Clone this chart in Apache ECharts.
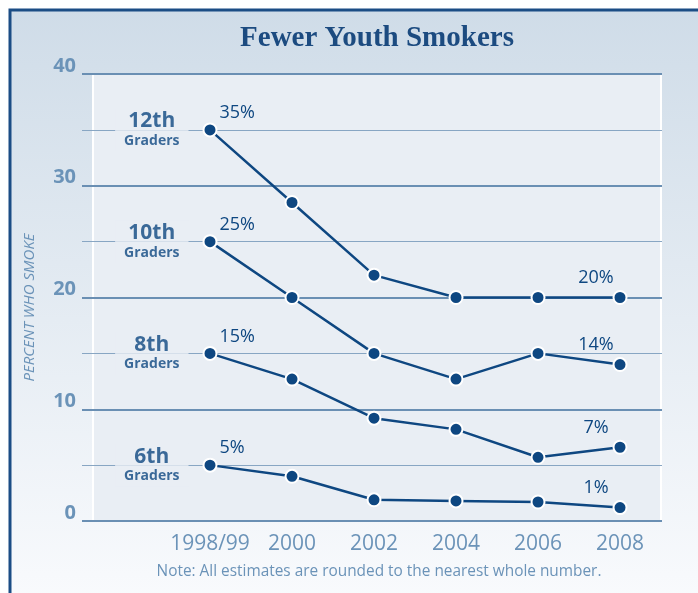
<!DOCTYPE html>
<html>
<head>
<meta charset="utf-8">
<script src="https://cdn.jsdelivr.net/npm/echarts@6/dist/echarts.min.js"></script>
<style>html,body{margin:0;padding:0;background:#fff}#chart{width:698px;height:593px}</style>
</head>
<body>
<div id="chart"></div>
<script>
// survey years (x axis)
const years = ['1998/99', '2000', '2002', '2004', '2006', '2008'];
// percent who smoke
const grade12 = [35, 28.5, 22, 20, 20, 20];
const grade10 = [25, 20, 15, 12.7, 15, 14];
const grade8 = [15, 12.7, 9.2, 8.2, 5.7, 6.6];
const grade6 = [5, 4, 1.9, 1.8, 1.7, 1.2];
const gradeNames = ['12th', '10th', '8th', '6th'];

const NAVY = '#0e4781';
const SOFT = '#6b93b8';
const PANEL = '#e9eef4';
const allGrades = [grade12, grade10, grade8, grade6];

function lineSeries(vals, name) {
  return {
    name: name,
    type: 'line',
    data: vals.map((v, i) => {
      const item = { value: [i, v] };
      if (i === 0) item.label = { show: true, position: 'right', distance: 2, offset: [0, -17] };
      else if (i === vals.length - 1) item.label = { show: true, position: 'top', distance: 3, offset: [-24, 0] };
      return item;
    }),
    symbol: 'circle',
    symbolSize: 13,
    showAllSymbol: true,
    lineStyle: { color: NAVY, width: 2.5 },
    itemStyle: { color: NAVY, borderColor: '#fff', borderWidth: 2 },
    label: {
      show: false, color: NAVY, fontSize: 18, fontFamily: 'Open Sans',
      formatter: p => Math.round(p.value[1]) + '%'
    },
    emphasis: { disabled: true },
    z: 3
  };
}

const chart = echarts.init(document.getElementById('chart'));

const option = {
  animation: false,
  backgroundColor: '#fff',
  grid: { left: 82, right: 36, top: 74, bottom: 72 },
  xAxis: {
    type: 'value', min: -1.561, max: 5.512,
    axisLine: { show: false }, axisTick: { show: false }, splitLine: { show: false },
    axisLabel: {
      customValues: years.map((y, i) => i),
      formatter: v => years[v],
      color: SOFT, fontSize: 21, fontFamily: 'Open Sans', margin: 13
    }
  },
  yAxis: [
    {
      type: 'value', min: 0, max: 40, interval: 10,
      name: 'PERCENT WHO SMOKE', nameLocation: 'middle', nameGap: 45,
      nameTextStyle: { color: SOFT, fontSize: 15, fontStyle: 'italic', fontFamily: 'Open Sans', padding: [0, 20, 0, 0] },
      axisLine: { show: false }, axisTick: { show: false },
      axisLabel: {
        color: SOFT, fontSize: 20, fontWeight: 'bold', fontFamily: 'Open Sans',
        margin: 6, verticalAlign: 'bottom', lineHeight: 16
      },
      splitLine: { lineStyle: { color: '#6a8fb3', width: 2 } }
    },
    {
      type: 'value', min: 0, max: 40, interval: 5,
      axisLine: { show: false }, axisTick: { show: false }, axisLabel: { show: false },
      splitLine: { lineStyle: { color: ['rgba(0,0,0,0)', '#88a6c3'], width: 1 } }
    }
  ],
  graphic: [
    {
      type: 'rect', z: -10,
      shape: { x: 10, y: 10, width: 720, height: 620 },
      style: {
        fill: new echarts.graphic.LinearGradient(0, 0, 0, 1, [
          { offset: 0, color: '#cfdce8' },
          { offset: 1, color: '#fbfcfe' }
        ]),
        stroke: '#1b4d85', lineWidth: 3
      }
    },
    {
      type: 'rect', z: -9,
      shape: { x: 93, y: 74, width: 568, height: 447 },
      style: { fill: PANEL, stroke: '#fff', lineWidth: 2 }
    },
    {
      type: 'text', x: 377, y: 39,
      style: {
        text: 'Fewer Youth Smokers', fontSize: 29, fontWeight: 'bold', fontFamily: 'Liberation Serif',
        fill: '#1c4b80', textAlign: 'center', textVerticalAlign: 'middle'
      }
    },
    {
      type: 'text', x: 379, y: 572,
      style: {
        text: 'Note: All estimates are rounded to the nearest whole number.',
        fontSize: 15.4, fontFamily: 'Open Sans', fill: SOFT, textAlign: 'center', textVerticalAlign: 'middle'
      }
    }
  ],
  series: [
    lineSeries(grade12, '12th Graders'),
    lineSeries(grade10, '10th Graders'),
    lineSeries(grade8, '8th Graders'),
    lineSeries(grade6, '6th Graders'),
    {
      type: 'scatter',
      silent: true,
      symbolSize: 1,
      itemStyle: { color: 'rgba(0,0,0,0)' },
      data: allGrades.map((g, k) => ({ value: [0, g[0]], name: gradeNames[k] })),
      label: {
        show: true, position: 'left', distance: 21,
        backgroundColor: PANEL, padding: [2, 9],
        formatter: p => '{a|' + p.name + '}\n{b|Graders}',
        rich: {
          a: { fontSize: 21, fontWeight: 'bold', color: NAVY, fontFamily: 'Open Sans', lineHeight: 22, align: 'center' },
          b: { fontSize: 14, fontWeight: 'bold', color: NAVY, fontFamily: 'Open Sans', lineHeight: 17, align: 'center' }
        }
      },
      z: 2
    }
  ]
};

chart.setOption(option);
</script>
</body>
</html>
